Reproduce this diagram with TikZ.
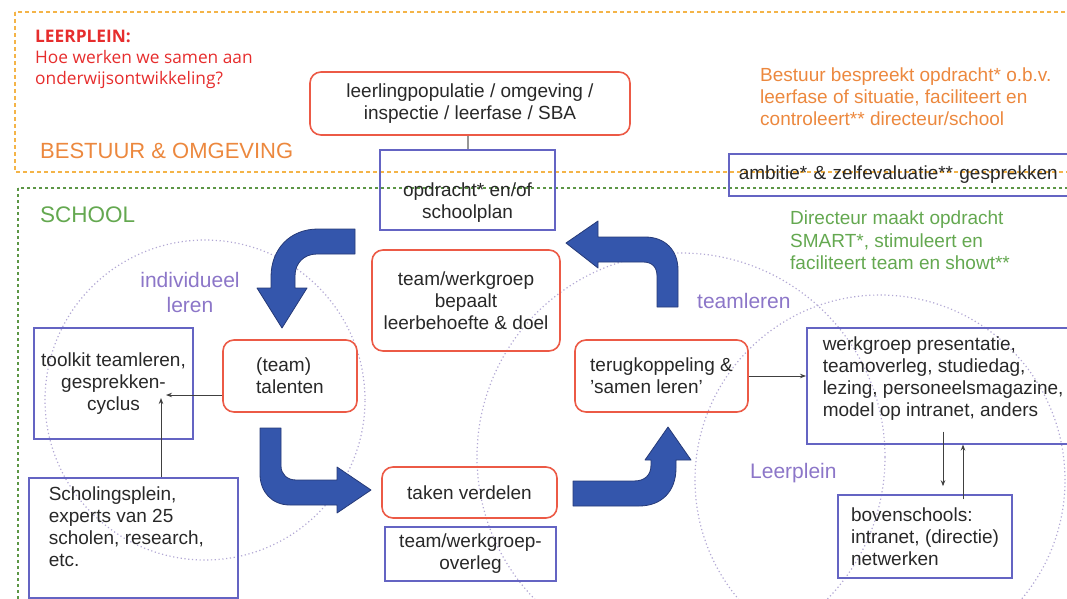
\documentclass[tikz,border=0pt]{standalone}
\usepackage{fontspec}
\setmainfont{Liberation Sans}
\newfontfamily\opensans{Open Sans}
\usetikzlibrary{arrows.meta,calc}

\definecolor{roodc}{RGB}{236,90,70}
\definecolor{blauwc}{RGB}{100,100,195}
\definecolor{pijlc}{RGB}{52,86,172}
\definecolor{pijlrand}{RGB}{38,58,120}
\definecolor{txtc}{RGB}{40,40,40}
\definecolor{titelc}{RGB}{230,45,45}
\definecolor{oranjec}{RGB}{236,136,62}
\definecolor{oranjekaderc}{RGB}{244,180,72}
\definecolor{groenc}{RGB}{100,168,80}
\definecolor{groenkaderc}{RGB}{92,150,70}
\definecolor{paarsc}{RGB}{140,118,200}
\definecolor{cirkelc}{RGB}{178,168,212}
\definecolor{lijnc}{RGB}{150,150,150}

\begin{document}
\begin{tikzpicture}[x=1pt,y=-1pt,
    tekst/.style={font=\fontsize{19}{22}\selectfont, text=txtc},
    rood/.style={tekst, draw=roodc, line width=1.6pt, rounded corners=11pt, align=center},
    blauw/.style={tekst, draw=blauwc, line width=1.5pt},
    kop/.style={inner sep=0pt, align=left},
    paars/.style={kop, text=paarsc, font=\fontsize{21}{25}\selectfont},
    cirkel/.style={draw=cirkelc, line width=1.2pt, dash pattern=on 1.2pt off 2.6pt},
    pijl/.style={draw=black!75, line width=0.9pt, -{Stealth[length=6pt,width=4.5pt]}},
    dik/.style={fill=pijlc, draw=pijlrand, line width=0.8pt, line join=round}]

    \useasboundingbox (0,0) rectangle (1067,599);
    \clip (0,0) rectangle (1067,599);

    % Frames
    \draw[draw=oranjekaderc, line width=1.5pt, dash pattern=on 4pt off 3pt] (15,12) rectangle (1080,172);
    \draw[draw=groenkaderc, line width=1.5pt, dash pattern=on 3pt off 3pt] (18,188) rectangle (1080,620);

    % Circles
    \foreach \cx/\cy/\r in {205/400/160, 681/457/204, 880/480/185} {
        \draw[cirkel] (\cx,\cy) circle[radius=\r pt];
    }

    % Titles
    \node[kop, anchor=north west, text=titelc, font=\opensans\fontsize{17.3}{21}\selectfont] (titel) at (35,30)
        {\bfseries LEERPLEIN:\\ Hoe werken we samen aan\\ onderwijsontwikkeling?};
    \node[kop, anchor=west, text=oranjec, font=\fontsize{22}{25}\selectfont] (bestuur) at (40,151) {BESTUUR \& OMGEVING};
    \node[kop, anchor=west, text=groenc, font=\fontsize{22.5}{25}\selectfont] (school) at (40,215) {SCHOOL};
    \node[kop, anchor=north west, text=oranjec, font=\fontsize{19}{22}\selectfont] (bespreekt) at (760,68)
        {Bestuur bespreekt opdracht* o.b.v.\\ leerfase of situatie, faciliteert en\\ controleert** directeur/school};
    \node[kop, anchor=north west, text=groenc, font=\fontsize{19}{22.5}\selectfont] (directeur) at (790,211)
        {Directeur maakt opdracht\\ SMART*, stimuleert en\\ faciliteert team en showt**};
    \node[paars, anchor=north, align=center] (indiv) at (190,272) {individueel\\ leren};
    \node[paars, anchor=base west] (teamleren) at (697,308) {teamleren};
    \node[paars, anchor=base west] (leerplein) at (750,478) {Leerplein};

    % Blue arrows
    \draw[dik] (355,229) -- (318,229) .. controls (290,229) and (271,249) .. (271,277) -- (271,288) -- (257,288)
        -- (282,328) -- (307,288) -- (295,288) -- (295,276) .. controls (295,263) and (304,254) .. (317,254) -- (355,254) -- cycle;
    \draw[dik] (260,428) -- (260,474) .. controls (260,492) and (272,505) .. (290,505) -- (337,505) -- (337,513)
        -- (371,490) -- (337,467) -- (337,480) -- (296,480) .. controls (287,480) and (281,474) .. (281,466) -- (281,428) -- cycle;
    \draw[dik] (573,481) -- (634,481) .. controls (645,481) and (651,475) .. (651,465) -- (651,460) -- (645,460)
        -- (668,427) -- (691,460) -- (676,460) -- (676,468) .. controls (676,491) and (662,506) .. (639,506) -- (573,506) -- cycle;
    \draw[dik] (657,307) -- (657,276) .. controls (657,267) and (652,262) .. (643,262) -- (598,262) -- (598,268)
        -- (566,243) -- (598,221) -- (598,237) -- (645,237) .. controls (665,237) and (678,250) .. (678,270) -- (678,307) -- cycle;

    % Boxes
    \node[rood, minimum width=320pt, minimum height=63pt] (popu) at (470,103.5)
        {leerlingpopulatie / omgeving /\\ inspectie / leerfase / SBA};
    \node[blauw, inner xsep=10pt, inner ysep=8pt] (opdr) at (467.5,190)
        {\parbox[c][60pt][b]{155pt}{\centering opdracht* en/of\\ schoolplan}};
    \node[blauw, align=left, anchor=north west, inner xsep=10pt, text width=330pt, minimum height=42pt] (ambitie) at (728,153)
        {ambitie* \& zelfevaluatie** gesprekken};
    \node[rood, minimum width=188pt, minimum height=101pt] (doel) at (466,300.5)
        {team/werkgroep\\ bepaalt\\ leerbehoefte \& doel};
    \node[rood, align=left, minimum width=134pt, minimum height=72pt] (tal) at (290,376) {(team)\\ talenten};
    \node[blauw, align=center, minimum width=159pt, minimum height=111pt] (tool) at (113.5,383.5)
        {toolkit teamleren,\\ gesprekken-\\ cyclus};
    \node[blauw, anchor=north west, inner xsep=20pt, inner ysep=9pt] (schol) at (28,477)
        {\parbox[c][102pt][t]{169pt}{\raggedright Scholingsplein,\\ experts van 25\\ scholen, research,\\ etc.}};
    \node[rood, minimum width=175pt, minimum height=51pt] (taak) at (469.5,492.5) {taken verdelen};
    \node[blauw, align=center, minimum width=171pt, minimum height=54pt] (overleg) at (470.5,554)
        {team/werkgroep-\\ overleg};
    \node[rood, align=left, minimum width=173pt, minimum height=72pt] (terug) at (661.5,376)
        {terugkoppeling \&\\ 'samen leren'};
    \node[blauw, anchor=north west, inner xsep=16pt, inner ysep=9pt] (werk) at (806,327)
        {\parbox[c][98pt][t]{262pt}{\raggedright werkgroep presentatie,\\ teamoverleg, studiedag,\\ lezing, personeelsmagazine,\\ model op intranet, anders}};
    \node[blauw, align=left, minimum width=174pt, minimum height=83pt] (bove) at (925,536.5)
        {bovenschools:\\ intranet, (directie)\\ netwerken};

    % Connectors
    \draw[draw=lijnc, line width=2pt] (opdr.north |- popu.south) -- (opdr.north);
    \coordinate (cyc) at (166,395);
    \draw[pijl] (tal.west |- cyc) -- (cyc);
    \draw[pijl] ([xshift=-5pt]schol.north -| cyc) -- ([xshift=-5pt,yshift=-3pt]cyc);
    \draw[pijl] (terug.east) -- (terug.east -| werk.west);
    \draw[pijl] ([xshift=18pt,yshift=13pt]bove.north |- werk.south) -- ([xshift=18pt,yshift=8pt]bove.north);
    \draw[pijl] ([xshift=38pt,yshift=-5pt]bove.north) -- ([xshift=38pt]bove.north |- werk.south);
\end{tikzpicture}
\end{document}
